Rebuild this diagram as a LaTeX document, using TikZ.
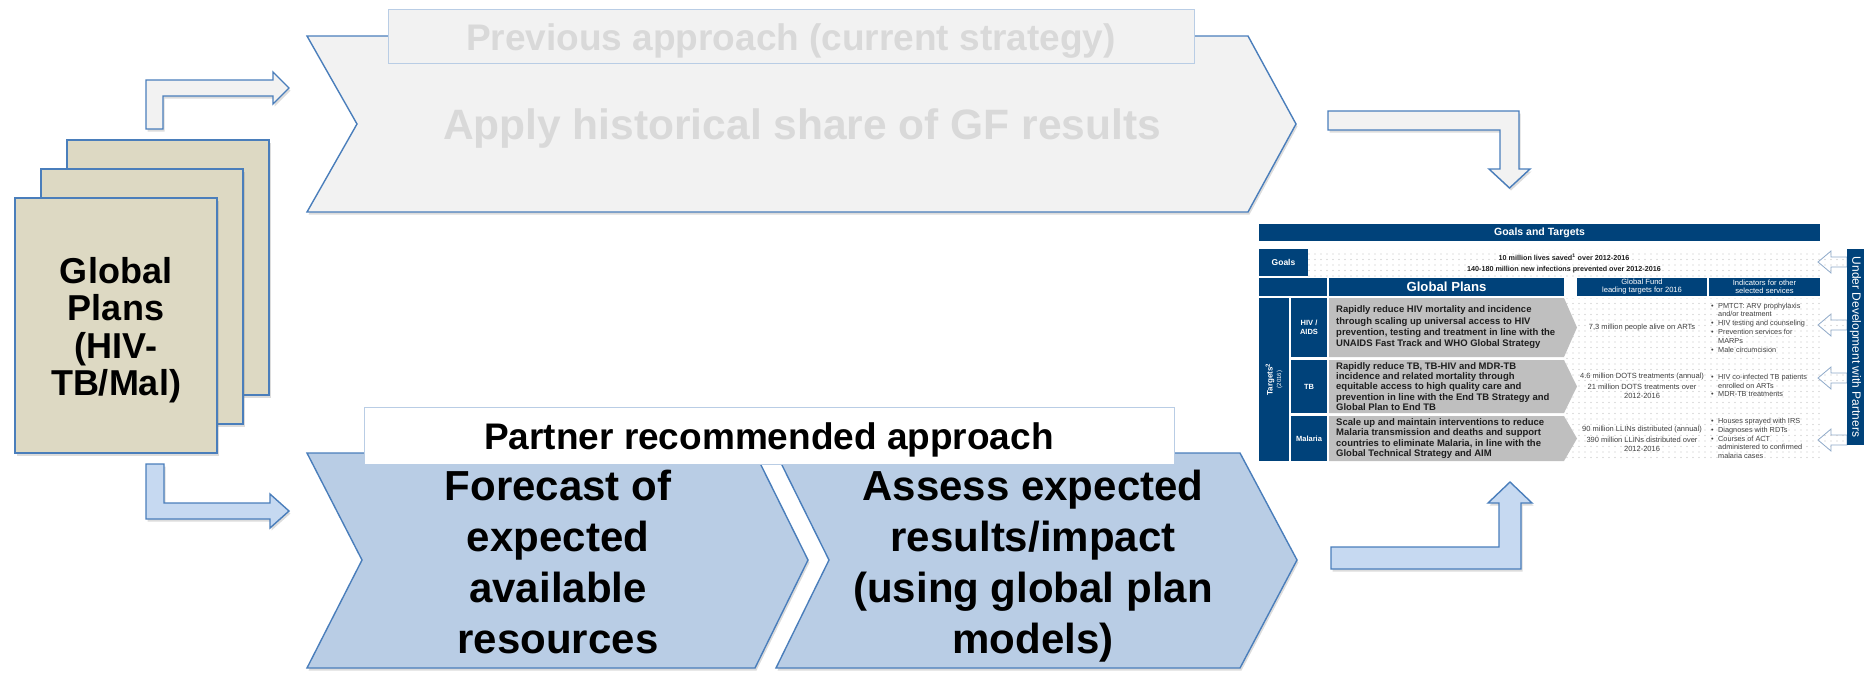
\documentclass[tikz,border=0pt]{standalone}
\usepackage{fontspec}
\setmainfont{Liberation Sans}
\usetikzlibrary{shadows,patterns}
\pgfdeclarepatternformonly{sparsedots}{\pgfqpoint{0pt}{0pt}}{\pgfqpoint{2pt}{2pt}}{\pgfqpoint{6pt}{5.5pt}}{\pgfpathcircle{\pgfqpoint{1pt}{1pt}}{0.55pt}\pgfusepath{fill}}
\definecolor{bordblue}{HTML}{4A7EBB}
\definecolor{lightfill}{HTML}{F2F2F2}
\definecolor{chevblue}{HTML}{B9CDE5}
\definecolor{arrblue}{HTML}{C6D9F1}
\definecolor{pagetan}{HTML}{DDD9C3}
\definecolor{ghost}{HTML}{D9D9D9}
\definecolor{navy}{HTML}{00427A}
\definecolor{cellgray}{HTML}{BFBFBF}
\definecolor{hdrborder}{HTML}{B9CDE5}
\definecolor{txtdark}{HTML}{1E1E1E}
\definecolor{txtgray}{HTML}{404040}
\definecolor{smallarr}{HTML}{8EA9C9}
\newcommand{\fsz}[2]{\fontsize{#1}{#2}\selectfont}
\newcommand{\tbul}{\makebox[7pt][l]{\textbullet}}
\newcommand{\tind}{\hspace*{7pt}}
\begin{document}
\begin{tikzpicture}[x=1pt,y=-1pt,
  block/.style={draw=bordblue, line width=1.4pt, line join=miter},
  shade3/.style={drop shadow={opacity=0.28, shadow xshift=1.5pt, shadow yshift=-2.5pt}},
  hdrbox/.style={draw=hdrborder, line width=1pt, inner sep=0pt},
  navycell/.style={fill=navy},
  whitetxt/.style={text=white, inner sep=0pt},
  rowtxt/.style={anchor=west, align=left, inner sep=0pt, text=txtdark},
  coltxt/.style={align=center, inner sep=0pt, text=txtgray, font=\fsz{7.5}{8.5}},
  indtxt/.style={anchor=west, align=left, inner sep=0pt, text=txtgray, font=\fsz{7.3}{8.8}},
  dotted bg/.style={pattern=sparsedots, pattern color=gray!50},
  leftarr/.style={draw=smallarr, line width=0.8pt, fill=white}
]
\useasboundingbox (0,0) rectangle (1864,673);

% ---------- stack of pages ----------
\path[block, fill=pagetan, shade3] (67,140) rectangle (269,395);
\path[block, fill=pagetan, shade3] (41,169) rectangle (243,424);
\path[block, fill=pagetan, shade3] (15,198) rectangle (217,453);
\node[font=\fsz{36}{37.5}\bfseries, align=center, inner sep=0pt] (gp) at (116,330) {Global\\Plans\\(HIV-\\TB/Mal)};

% ---------- left bent arrows ----------
\path[block, fill=lightfill, shade3] (146,129) -- (146,80) -- (273,80) -- (273,72) -- (289,88) -- (273,104) -- (273,96) -- (163,96) -- (163,129) -- cycle;
\path[block, fill=arrblue, shade3] (146,464) -- (164,464) -- (164,503) -- (270,503) -- (270,494) -- (289,511) -- (270,528) -- (270,519) -- (146,519) -- cycle;

% ---------- top chevron ----------
\path[block, fill=lightfill, shade3] (307,36) -- (1248,36) -- (1296,124) -- (1248,212) -- (307,212) -- (357,124) -- cycle;
\node[hdrbox, fill=lightfill, minimum width=806pt, minimum height=54pt] (prevbox) at (791,36) {};
\node[font=\fsz{37}{44}\bfseries, text=ghost, anchor=base, inner sep=0pt] (prev) at (791,50) {Previous approach (current strategy)};
\node[font=\fsz{42.5}{50}\bfseries, text=ghost, anchor=base, inner sep=0pt] (apply) at (802,139) {Apply historical share of GF results};

% ---------- bottom chevrons ----------
\path[block, fill=chevblue, shade3] (307,453) -- (755,453) -- (808,560) -- (755,668) -- (307,668) -- (362,560) -- cycle;
\path[block, fill=chevblue, shade3] (776,453) -- (1240,453) -- (1297,560) -- (1240,668) -- (776,668) -- (829,560) -- cycle;
\node[hdrbox, fill=white, minimum width=810pt, minimum height=57pt] (partbox) at (769,435.5) {};
\node[font=\fsz{37}{44}\bfseries, anchor=base, inner sep=0pt] (partner) at (769,449) {Partner recommended approach};
\node[font=\fsz{42}{51}\bfseries, align=center, inner sep=0pt] (forecast) at (558,562) {Forecast of\\expected\\available\\resources};
\node[font=\fsz{42}{51}\bfseries, align=center, inner sep=0pt] (assess) at (1033,566) {Assess expected\\results/impact\\(using global plan\\models)};

% ---------- right bent arrows ----------
\path[block, fill=lightfill, shade3] (1328,111) -- (1519,111) -- (1519,169) -- (1530,169) -- (1509.5,188) -- (1489,169) -- (1500,169) -- (1500,130) -- (1328,130) -- cycle;
\path[block, fill=arrblue, shade3] (1331,569) -- (1331,547) -- (1499,547) -- (1499,503) -- (1488,503) -- (1510,482) -- (1532,503) -- (1521,503) -- (1521,569) -- cycle;

% ---------- table ----------
\fill[navy] (1259,224) rectangle (1820,241);
\node[whitetxt, font=\fsz{10.5}{12}\bfseries] (gt) at (1539.5,232.5) {Goals and Targets};

\fill[navy] (1259,249) rectangle (1308,276);
\node[whitetxt, font=\fsz{8.5}{10}\bfseries] (goals) at (1283.5,262.5) {Goals};
\fill[white] (1308,249) rectangle (1820,276);
\path[dotted bg] (1308,249) rectangle (1820,276);
\node[font=\fsz{7.2}{11}\bfseries, text=txtdark, align=center, inner sep=0pt] (goalt) at (1564,263.5) {10 million lives saved\textsuperscript{1} over 2012-2016\\140-180 million new infections prevented over 2012-2016};

% header row
\fill[navy] (1259,278) rectangle (1327,296);
\fill[navy] (1329,278) rectangle (1564,296);
\fill[navy] (1577,278) rectangle (1707,296);
\fill[navy] (1709,278) rectangle (1820,296);
\node[whitetxt, font=\fsz{13.2}{15}\bfseries] (gph) at (1446.5,287) {Global Plans};
\node[whitetxt, font=\fsz{7.6}{8}, align=center] (gfh) at (1642,287) {Global Fund\\leading targets for 2016};
\node[whitetxt, font=\fsz{7.6}{8}, align=center] (indh) at (1764.5,287) {Indicators for other\\selected services};

% left label columns
\fill[navy] (1259,298) rectangle (1289,461);
\fill[navy] (1291,298) rectangle (1327,357);
\fill[navy] (1291,360) rectangle (1327,413);
\fill[navy] (1291,416) rectangle (1327,461);
\node[whitetxt, rotate=90, align=center, font=\fsz{8}{8.5}\bfseries] (tgl) at (1274,379.5) {Targets\textsuperscript{2}\\{\fsz{6}{7}\mdseries (2016)}};
\node[whitetxt, align=center, font=\fsz{7.5}{9}\bfseries] (hivl) at (1309,327.5) {HIV /\\AIDS};
\node[whitetxt, font=\fsz{7.5}{9}\bfseries] (tbl) at (1309,386.5) {TB};
\node[whitetxt, font=\fsz{7.5}{9}\bfseries] (mall) at (1309,438.5) {Malaria};

% dotted right area
\fill[white] (1564,298) rectangle (1820,461);
\path[dotted bg] (1564,298) rectangle (1820,461);

% gray rows
\fill[cellgray] (1329,298) -- (1564,298) -- (1577,327.5) -- (1564,357) -- (1329,357) -- cycle;
\fill[cellgray] (1329,360) -- (1564,360) -- (1577,386.5) -- (1564,413) -- (1329,413) -- cycle;
\fill[cellgray] (1329,416) -- (1564,416) -- (1577,438.5) -- (1564,461) -- (1329,461) -- cycle;
\node[rowtxt, font=\fsz{9.5}{11.3}\bfseries] (hivt) at (1336,327.5) {Rapidly reduce HIV mortality and incidence\\through scaling up universal access to HIV\\prevention, testing and treatment in line with the\\UNAIDS Fast Track and WHO Global Strategy};
\node[rowtxt, font=\fsz{9.5}{10.3}\bfseries] (tbt) at (1336,386.5) {Rapidly reduce TB, TB-HIV and MDR-TB\\incidence and related mortality through\\equitable access to high quality care and\\prevention in line with the End TB Strategy and\\Global Plan to End TB};
\node[rowtxt, font=\fsz{9.5}{10.3}\bfseries] (malt) at (1336,438.5) {Scale up and maintain interventions to reduce\\Malaria transmission and deaths and support\\countries to eliminate Malaria, in line with the\\Global Technical Strategy and AIM};

% Global Fund column
\node[coltxt] (gf1) at (1642,327.5) {7,3 million people alive on ARTs};
\node[coltxt] (gf2) at (1642,385.5) {4.6 million DOTS treatments (annual)\\[3pt]21 million DOTS treatments over\\2012-2016};
\node[coltxt] (gf3) at (1642,438.5) {90 million LLINs distributed (annual)\\[3pt]390 million LLINs distributed over\\2012-2016};

% indicators column
\node[indtxt] (ind1) at (1711,327.5) {\tbul PMTCT: ARV prophylaxis\\\tind and/or treatment\\\tbul HIV testing and counseling\\\tbul Prevention services for\\\tind MARPs\\\tbul Male circumcision};
\node[indtxt] (ind2) at (1711,385.5) {\tbul HIV co-infected TB patients\\\tind enrolled on ARTs\\\tbul MDR-TB treatments};
\node[indtxt] (ind3) at (1711,438.5) {\tbul Houses sprayed with IRS\\\tbul Diagnoses with RDTs\\\tbul Courses of ACT\\\tind administered to confirmed\\\tind malaria cases};

% small left arrows
\foreach \yy in {262,325,378,440}{
  \path[leftarr] (1818,\yy) -- (1831,\yy-11) -- (1831,\yy-5) -- (1847,\yy-5) -- (1847,\yy+5) -- (1831,\yy+5) -- (1831,\yy+11) -- cycle;
  \path[dotted bg] (1818,\yy) -- (1831,\yy-11) -- (1831,\yy-5) -- (1847,\yy-5) -- (1847,\yy+5) -- (1831,\yy+5) -- (1831,\yy+11) -- cycle;
}

% under development bar
\fill[navy] (1847,249) rectangle (1864,445);
\node[whitetxt, rotate=-90, font=\fsz{12}{14}] (udev) at (1855.5,347) {Under Development with Partners};
\end{tikzpicture}
\end{document}
